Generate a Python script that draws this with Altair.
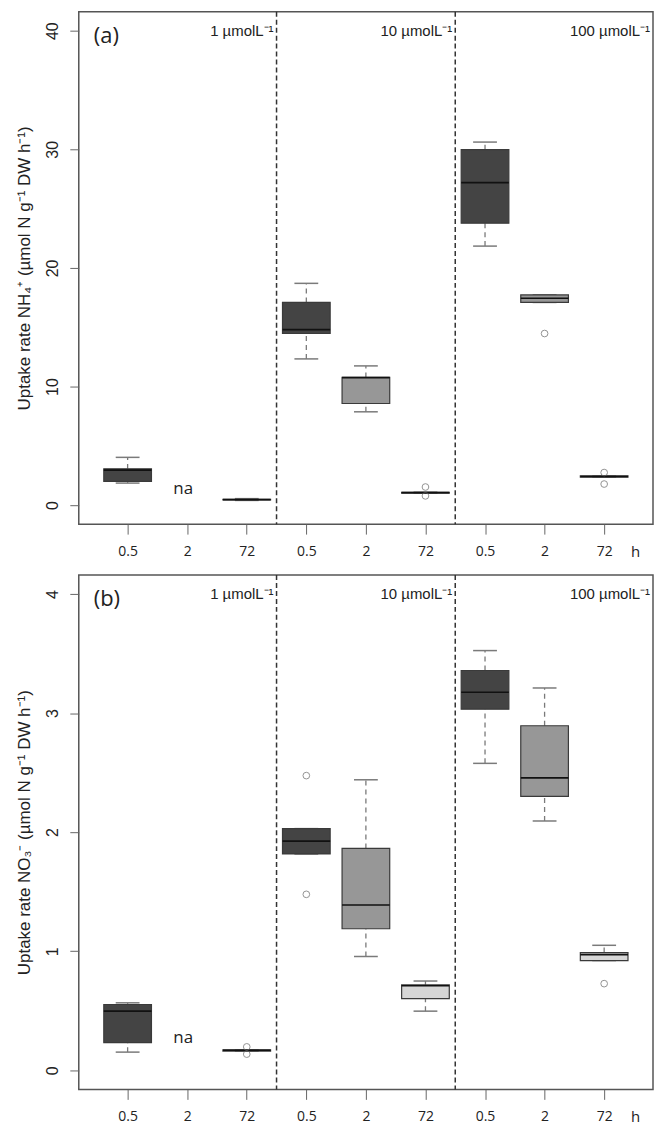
import json
import altair as alt
import pandas as pd

# ---------------- data ----------------
positions = [1, 2, 3, 4, 5, 6, 7, 8, 9]
time_labels = ["0.5", "2", "72", "0.5", "2", "72", "0.5", "2", "72"]
time_groups = ["0.5 h", "2 h", "72 h"] * 3
conc_labels = ["1 µmolL⁻¹", "10 µmolL⁻¹", "100 µmolL⁻¹"]
group_right_edges = [3.5, 6.5, 9.82]
separators = [3.5, 6.5]
na_position = 2

# Panel (a) NH4+
nh4_lo = [1.86, None, 0.40, 12.33, 7.87, 1.02, 21.84, 17.09, 2.36]
nh4_q1 = [2.00, None, 0.44, 14.47, 8.57, 1.02, 23.77, 17.09, 2.36]
nh4_med = [2.95, None, 0.47, 14.80, 10.75, 1.06, 27.19, 17.45, 2.42]
nh4_q3 = [3.06, None, 0.50, 17.09, 10.77, 1.09, 29.97, 17.72, 2.47]
nh4_hi = [4.03, None, 0.55, 18.70, 11.74, 1.09, 30.61, 17.72, 2.47]
nh4_out_pos = [6, 6, 8, 9, 9]
nh4_out_val = [1.53, 0.78, 14.47, 2.75, 1.78]
nh4_na_y = 1.4

# Panel (b) NO3-
no3_lo = [0.153, None, 0.162, 1.817, 0.956, 0.497, 2.578, 2.094, 0.922]
no3_q1 = [0.233, None, 0.162, 1.817, 1.189, 0.603, 3.033, 2.300, 0.922]
no3_med = [0.497, None, 0.169, 1.925, 1.389, 0.710, 3.175, 2.456, 0.972]
no3_q3 = [0.553, None, 0.172, 2.030, 1.864, 0.717, 3.358, 2.894, 0.989]
no3_hi = [0.567, None, 0.172, 2.030, 2.440, 0.750, 3.525, 3.211, 1.050]
no3_out_pos = [3, 3, 4, 4, 9]
no3_out_val = [0.197, 0.136, 2.475, 1.478, 0.728]
no3_na_y = 0.275

# ---------------- styling ----------------
BOX_COLORS = {"0.5 h": "#444444", "2 h": "#979797", "72 h": "#d6d6d6"}
XDOM = [0.18, 9.82]
W = 576
HALF_BOX = 0.4
HALF_CAP = 0.2
SANS = "Liberation Sans"
OPEN = "Open Sans"

X_AXIS = alt.Axis(
    values=positions,
    labelExpr=json.dumps(time_labels) + "[datum.value - 1]",
    title="h", titleX=558, titleY=27, titleAngle=0, titleAlign="center",
    titleBaseline="middle", titleFont=OPEN, titleFontSize=15,
    titleFontWeight="normal", titleColor="#222",
    domain=False, grid=False, tickSize=10, tickColor="#666", tickWidth=1,
    labelFont=OPEN, labelFontSize=14, labelColor="#222",
    labelBaseline="middle", labelPadding=17, labelFlush=False,
)


def y_axis(ticks, title):
    return alt.Axis(
        values=ticks, title=title, format="d",
        domain=False, grid=False, tickSize=9, tickColor="#666", tickWidth=1,
        labelAngle=270, labelAlign="center", labelBaseline="middle",
        labelPadding=17, labelFont=SANS, labelFontSize=16, labelColor="#222",
        labelFlush=False,
        titleFont=SANS, titleFontSize=17, titleFontWeight="normal",
        titleColor="#222", titlePadding=11,
    )


def panel(lo, q1, med, q3, hi, out_pos, out_val, dom, ticks, title, letter, na_y, height):
    yax = y_axis(ticks, title)

    def X(field):
        return alt.X(field, type="quantitative",
                     scale=alt.Scale(domain=XDOM, nice=False, zero=False), axis=X_AXIS)

    def Y(field):
        return alt.Y(field, type="quantitative",
                     scale=alt.Scale(domain=dom, nice=False, zero=False), axis=yax)

    df = pd.DataFrame({
        "pos": positions, "time": time_groups,
        "lo": lo, "q1": q1, "med": med, "q3": q3, "hi": hi,
    }).dropna()
    base = alt.Chart(df).transform_calculate(
        xl=f"datum.pos - {HALF_BOX}", xr=f"datum.pos + {HALF_BOX}",
        cl=f"datum.pos - {HALF_CAP}", cr=f"datum.pos + {HALF_CAP}",
    )

    whisk_up = base.mark_rule(color="#7a7a7a", strokeDash=[5, 4], strokeWidth=1.3).encode(
        x=X("pos"), y=Y("q3"), y2="hi:Q")
    whisk_lo = base.mark_rule(color="#7a7a7a", strokeDash=[5, 4], strokeWidth=1.3).encode(
        x=X("pos"), y=Y("lo"), y2="q1:Q")
    cap_hi = base.mark_rule(color="#7a7a7a", strokeWidth=1.5).encode(
        x=X("cl"), x2="cr:Q", y=Y("hi"))
    cap_lo = base.mark_rule(color="#7a7a7a", strokeWidth=1.5).encode(
        x=X("cl"), x2="cr:Q", y=Y("lo"))
    box = base.mark_rect(stroke="#3a3a3a", strokeWidth=1.2).encode(
        x=X("xl"), x2="xr:Q", y=Y("q1"), y2="q3:Q",
        fill=alt.Fill("time:N", scale=alt.Scale(domain=list(BOX_COLORS.keys()),
                                                 range=list(BOX_COLORS.values())), legend=None),
    )
    median = base.mark_rule(color="#111", strokeWidth=1.6).encode(
        x=X("xl"), x2="xr:Q", y=Y("med"))

    sep = alt.Chart(pd.DataFrame({"s": separators})).mark_rule(
        color="#333", strokeDash=[5, 3], strokeWidth=1.5
    ).encode(x=X("s"), y=alt.value(0), y2=alt.value(height))

    outl = alt.Chart(pd.DataFrame({"pos": out_pos, "v": out_val})).mark_point(
        shape="circle", filled=False, size=45, stroke="#666", strokeWidth=1
    ).encode(x=X("pos"), y=Y("v"))

    conc = alt.Chart(pd.DataFrame({"x": group_right_edges, "t": conc_labels})).mark_text(
        align="right", baseline="middle", dx=-3, font=SANS, fontSize=15, color="#222"
    ).encode(x=X("x"), y=alt.value(19), text="t:N")

    let = alt.Chart(pd.DataFrame({"t": [letter]})).mark_text(
        align="left", baseline="middle", font=OPEN, fontSize=22, color="#222"
    ).encode(x=alt.value(15), y=alt.value(24), text="t:N")

    na = alt.Chart(pd.DataFrame({"x": [na_position], "y": [na_y], "t": ["na"]})).mark_text(
        align="center", baseline="middle", dx=-4, font=OPEN, fontSize=17, color="#222"
    ).encode(x=X("x"), y=Y("y"), text="t:N")

    return alt.layer(whisk_up, whisk_lo, cap_hi, cap_lo, box, median, outl, sep, conc, let, na).properties(
        width=W, height=height)


pa = panel(nh4_lo, nh4_q1, nh4_med, nh4_q3, nh4_hi, nh4_out_pos, nh4_out_val,
           [-1.6, 41.6], [0, 10, 20, 30, 40],
           "Uptake rate NH₄⁺ (µmol N g⁻¹ DW h⁻¹)", "(a)", nh4_na_y, 514)
pb = panel(no3_lo, no3_q1, no3_med, no3_q3, no3_hi, no3_out_pos, no3_out_val,
           [-0.16, 4.16], [0, 1, 2, 3, 4],
           "Uptake rate NO₃⁻ (µmol N g⁻¹ DW h⁻¹)", "(b)", no3_na_y, 516)

chart = alt.vconcat(pa, pb, spacing=51, bounds="flush").properties(
    padding={"left": 7, "top": 0, "right": 0, "bottom": 0}
).configure_view(stroke="#555", strokeWidth=1.5).resolve_scale(y="independent")

chart.save("out.html", embed_options={"renderer": "svg", "actions": False})
